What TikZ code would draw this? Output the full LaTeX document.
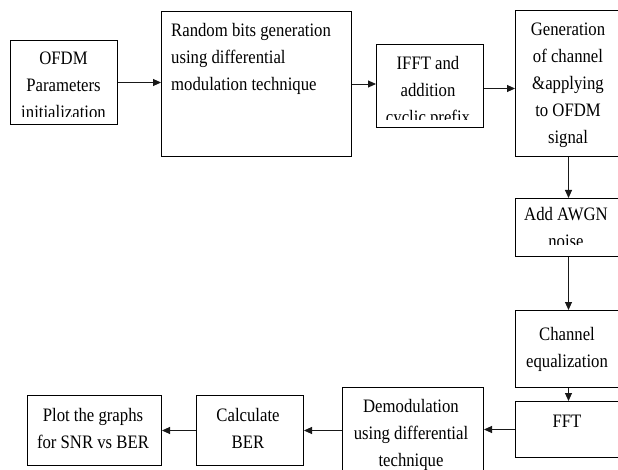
\documentclass[tikz,border=0pt]{standalone}
\usepackage{fontspec}
\setmainfont{Liberation Serif}[FakeStretch=0.88]
\usetikzlibrary{arrows.meta}
\tikzset{
  box/.style={draw=black, line width=1pt, inner sep=0pt, anchor=north west, fill=none},
  txt/.style={inner sep=0pt, font=\fontsize{19}{27}\selectfont, text=black},
  arr/.style={draw=black!90, line width=0.9pt, -{Triangle[length=8pt,width=7pt]}},
}
\newcommand{\cbox}[2]{\parbox[t]{#1}{\centering #2}}
\newcommand{\lbox}[2]{\parbox[t]{#1}{\raggedright #2}}
\begin{document}
\begin{tikzpicture}[x=1pt,y=-1pt]
\useasboundingbox (0,0) rectangle (618,470);
\clip (0,0) rectangle (618,470);
\fill[white] (0,0) rectangle (618,470);

% boxes: (left, top), width, height
\node[box, minimum width=107pt, minimum height=84pt]  (b1)  at (10,40)   {};
\node[box, minimum width=190pt, minimum height=145pt] (b2)  at (161,11)  {};
\node[box, minimum width=107pt, minimum height=83pt]  (b3)  at (376,44)  {};
\node[box, minimum width=106pt, minimum height=146pt] (b4)  at (515,10)  {};
\node[box, minimum width=106pt, minimum height=58pt]  (b5)  at (515,198) {};
\node[box, minimum width=106pt, minimum height=77pt]  (b6)  at (515,310) {};
\node[box, minimum width=106pt, minimum height=56pt]  (b7)  at (515,401) {};
\node[box, minimum width=141pt, minimum height=95pt]  (b8)  at (342,387) {};
\node[box, minimum width=107pt, minimum height=70pt]  (b9)  at (196,395) {};
\node[box, minimum width=134pt, minimum height=70pt]  (b10) at (27,395)  {};

% texts (clipped where the reference clips them)
\begin{scope}
  \clip (10,40) rectangle (117,117);
  \node[txt, anchor=base] (t1) at (63.5,65) {\cbox{120pt}{OFDM\\Parameters\\initialization}};
\end{scope}
\node[txt, anchor=base west] (t2) at (171,37) {\lbox{178pt}{Random bits generation\\using differential\\modulation technique}};
\begin{scope}
  \clip (376,44) rectangle (483,120);
  \node[txt, anchor=base] (t3) at (428,70) {\cbox{120pt}{IFFT and\\addition\\cyclic prefix}};
\end{scope}
\node[txt, anchor=base] (t4) at (568,36) {\cbox{120pt}{Generation\\of channel\\\&applying\\to OFDM\\signal}};
\begin{scope}
  \clip (515,198) rectangle (621,245);
  \node[txt, anchor=base] (t5) at (566,221) {\cbox{120pt}{Add AWGN\\noise}};
\end{scope}
\node[txt, anchor=base] (t6) at (567,340) {\cbox{120pt}{Channel\\equalization}};
\node[txt, anchor=base] (t7) at (567,427) {\cbox{120pt}{FFT}};
\node[txt, anchor=base] (t8) at (411,412) {\cbox{150pt}{Demodulation\\using differential\\technique}};
\node[txt, anchor=base] (t9) at (248,421) {\cbox{120pt}{Calculate\\BER}};
\node[txt, anchor=base] (t10) at (93,421) {\cbox{150pt}{Plot the graphs\\for SNR vs BER}};

% connectors
\draw[arr] (b1.east) -- (b1.east -| b2.west);
\draw[arr] (b2.east) -- (b2.east -| b3.west);
\draw[arr] ([yshift=-2.5pt]b3.east) -- ([yshift=-2.5pt]b3.east -| b4.west);
\draw[arr] (b4.south) -- (b5.north);
\draw[arr] (b5.south) -- (b6.north);
\draw[arr] (b6.south) -- (b7.north);
\draw[arr] (b7.west) -- (b7.west -| b8.east);
\draw[arr] (b9.east -| b8.west) -- (b9.east);
\draw[arr] (b9.west) -- (b9.west -| b10.east);
\end{tikzpicture}
\end{document}
